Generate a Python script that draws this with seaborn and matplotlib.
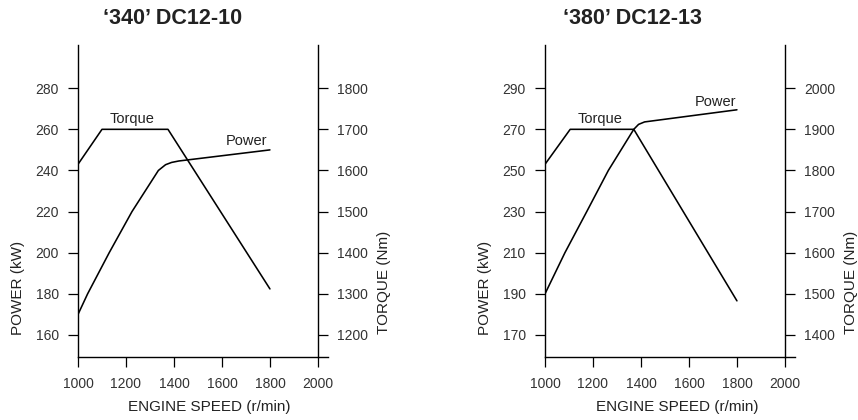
import matplotlib
matplotlib.use("Agg")
import matplotlib.pyplot as plt
import seaborn as sns
import pandas as pd

# ---------------- data ----------------
titles = ["\u2018340\u2019 DC12-10", "\u2018380\u2019 DC12-13"]

# '340' DC12-10
p340_rpm = [1000, 1040, 1130, 1225, 1335, 1365, 1390, 1420, 1800]
p340_kw = [170, 180, 200, 220, 240, 242.8, 243.9, 244.6, 250]
t340_rpm = [1000, 1100, 1375, 1800]
t340_nm = [1615, 1700, 1700, 1312]

# '380' DC12-13
p380_rpm = [1000, 1083, 1174, 1264, 1370, 1390, 1415, 1800]
p380_kw = [190, 210, 230, 250, 270, 272.4, 273.6, 279.5]
t380_rpm = [1000, 1105, 1370, 1800]
t380_nm = [1815, 1900, 1900, 1483]

x_ticks = [1000, 1200, 1400, 1600, 1800, 2000]
p340_ticks = [160, 180, 200, 220, 240, 260, 280]
t340_ticks = [1200, 1300, 1400, 1500, 1600, 1700, 1800]
p380_ticks = [170, 190, 210, 230, 250, 270, 290]
t380_ticks = [1400, 1500, 1600, 1700, 1800, 1900, 2000]

# ---------------- style ----------------
sns.set_theme(style="white")
plt.rcParams['font.family'] = ['Liberation Sans', 'DejaVu Sans']

W, H = 858, 420
fig = plt.figure(figsize=(W / 100, H / 100), dpi=100)

TXT = "#222222"


def panel(left_px, title, title_x, prpm, pkw, trpm, tnm, pticks, tticks,
          torque_lbl, power_lbl, xlab_x):
    ax = fig.add_axes([left_px / W, (H - 357) / H, 250 / W, 312 / H])
    p0 = pticks[0]
    t0 = tticks[0]
    ylo, yhi = p0 - 10.7, pticks[-1] + 21
    ax.set_xlim(1000, 2042)
    ax.set_ylim(ylo, yhi)

    ax2 = ax.twinx()
    ax2.set_ylim(t0 + (ylo - p0) * 5, t0 + (yhi - p0) * 5)

    df_p = pd.DataFrame({"rpm": prpm, "kw": pkw})
    df_t = pd.DataFrame({"rpm": trpm, "nm": tnm})
    sns.lineplot(data=df_p, x="rpm", y="kw", ax=ax, color="black", lw=1.15)
    sns.lineplot(data=df_t, x="rpm", y="nm", ax=ax2, color="black", lw=1.15)

    for s in ["top", "right"]:
        ax.spines[s].set_visible(False)
    for s in ["top", "left", "bottom"]:
        ax2.spines[s].set_visible(False)
    ax2.spines["right"].set_position(("data", 2000))
    for sp in [ax.spines["left"], ax.spines["bottom"], ax2.spines["right"]]:
        sp.set_color("black")
        sp.set_linewidth(1.0)

    ax.set_xticks(x_ticks)
    ax.set_yticks(pticks)
    ax2.set_yticks(tticks)
    ax.tick_params(axis="both", direction="out", length=7.2, width=0.9,
                   color="black", labelsize=10, labelcolor="#333333", pad=6.5,
                   left=True, bottom=True)
    ax.tick_params(axis="x", pad=7.5)
    ax2.tick_params(axis="y", direction="out", length=7.2, width=0.9,
                    color="black", labelsize=10, labelcolor="#333333", pad=6.5,
                    right=True)

    ax.set_xlabel("ENGINE SPEED (r/min)", fontsize=11, color=TXT,
                  va="center", ha="center")
    ax.xaxis.set_label_coords(xlab_x, -0.16)
    ax.set_ylabel("POWER (kW)", fontsize=11, color=TXT, va="center", ha="center")
    ax.yaxis.set_label_coords(-0.24, 0.221)
    ax2.set_ylabel("TORQUE (Nm)", fontsize=11, color=TXT, va="center",
                   ha="center", rotation=90)
    ax2.yaxis.set_label_coords(1.222, 0.24)

    ax.set_title(title, fontsize=15.5, fontweight="bold", color=TXT,
                 x=title_x, y=1.085, va="center", pad=0)

    ax.text(torque_lbl[0], torque_lbl[1], "Torque", fontsize=10.5, color=TXT,
            ha="center", va="center")
    ax.text(power_lbl[0], power_lbl[1], "Power", fontsize=10.5, color=TXT,
            ha="center", va="center")
    ax.grid(False)
    ax2.grid(False)


panel(78, titles[0], 0.38, p340_rpm, p340_kw, t340_rpm, t340_nm,
      p340_ticks, t340_ticks, (1225, 265), (1704, 254.3), 0.526)
panel(545, titles[1], 0.35, p380_rpm, p380_kw, t380_rpm, t380_nm,
      p380_ticks, t380_ticks, (1229, 275), (1711, 283.4), 0.528)

fig.savefig("out.png", dpi=100, facecolor="white")
